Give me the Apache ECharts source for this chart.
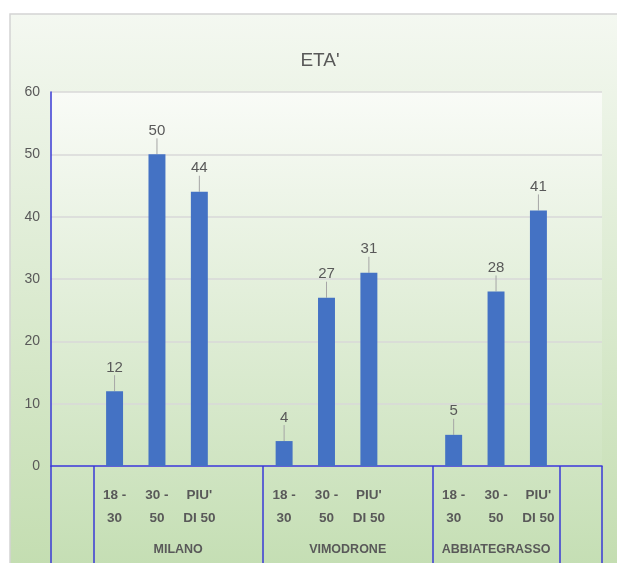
<!DOCTYPE html>
<html>
<head>
<meta charset="utf-8">
<script src="https://cdn.jsdelivr.net/npm/echarts@6/dist/echarts.min.js"></script>
<style>
  html, body { margin: 0; padding: 0; background: #ffffff; }
  #chart { width: 617px; height: 563px; }
</style>
</head>
<body>
<div id="chart"></div>
<script>
// Survey respondents by age band, per town
const groups = ['MILANO', 'VIMODRONE', 'ABBIATEGRASSO'];
const ageBands = ["18 -\n30", "30 -\n50", "PIU'\nDI 50"];
const milano = [12, 50, 44];
const vimodrone = [4, 27, 31];
const abbiategrasso = [5, 28, 41];
const yTicks = [0, 10, 20, 30, 40, 50, 60];

const FONT = "'Liberation Sans Narrow', 'Liberation Sans', Arial, sans-serif";
const TEXT = '#595959';
const AXIS_BLUE = '#3a3ad6';

// Category slots: a leading empty slot, each town's bands (the first two
// towns followed by a spacer slot), then a trailing empty slot in its own cell.
const townValues = [milano, vimodrone, abbiategrasso];
const slotLabels = [''];
const slotValues = ['-'];
const groupSpans = []; // [startSlot, endSlot, name] per cell on the lower axis row
groupSpans.push([0, 1, '']);
groups.forEach((g, gi) => {
  const start = slotLabels.length;
  ageBands.forEach((b, bi) => {
    slotLabels.push(b);
    slotValues.push(townValues[gi][bi]);
  });
  if (gi < groups.length - 1) {
    slotLabels.push('');
    slotValues.push('-');
  }
  groupSpans.push([start, slotLabels.length, g]);
});
groupSpans.push([slotLabels.length, slotLabels.length + 1, '']);
slotLabels.push('');
slotValues.push('-');

const nSlots = slotLabels.length;
const grid = { left: 51, right: 15, top: 92, bottom: 97 };
const slotW = (617 - grid.left - grid.right) / nSlots;

// Lower row: town names centred in their cells, cell borders as long ticks
const boundaryIdx = groupSpans.map(s => s[0]);
const groupAxisData = new Array(nSlots).fill(null).map(() => ({ value: '' }));
groupSpans.forEach(([s, e, name]) => {
  if (!name) return;
  const mid = (s + e) / 2 - 0.5;      // centre in slot-centre units
  const k = Math.floor(mid);
  const shift = (mid - k) * slotW;    // extra offset to the right
  groupAxisData[k] = {
    value: name,
    textStyle: { padding: [0, 0, 0, shift * 2] }
  };
});

const chart = echarts.init(document.getElementById('chart'), null, { renderer: 'canvas' });

const option = {
  animation: false,
  graphic: [
    {
      type: 'rect', z: -10, silent: true,
      shape: { x: 10, y: 14, width: 620, height: 560 },
      style: {
        fill: new echarts.graphic.LinearGradient(0, 0, 0, 1, [
          { offset: 0, color: '#f4f8f1' },
          { offset: 1, color: '#c3ddb0' }
        ]),
        stroke: '#d4d4d4', lineWidth: 1.5
      }
    },
    {
      type: 'rect', z: -9, silent: true,
      shape: { x: 51, y: 92, width: 551, height: 480 },
      style: {
        fill: new echarts.graphic.LinearGradient(0, 0, 0, 1, [
          { offset: 0, color: '#f9fbf7' },
          { offset: 1, color: '#c4deb3' }
        ])
      }
    }
  ],
  title: {
    text: "ETA'",
    left: 315,
    top: 46,
    textAlign: 'center',
    textStyle: { fontFamily: FONT, fontSize: 19, fontWeight: 'normal', color: TEXT }
  },
  grid: grid,
  xAxis: [
    {
      type: 'category',
      data: slotLabels,
      position: 'bottom',
      axisLine: { show: true, lineStyle: { color: AXIS_BLUE, width: 1.5 } },
      axisTick: { show: false },
      axisLabel: {
        interval: 0,
        margin: 18,
        fontFamily: FONT,
        fontSize: 13.5,
        fontWeight: 'bold',
        color: TEXT,
        lineHeight: 23,
        align: 'center'
      },
      splitLine: { show: false }
    },
    {
      type: 'category',
      data: groupAxisData,
      position: 'bottom',
      axisLine: { show: false },
      axisTick: {
        show: true,
        inside: false,
        length: 100,
        interval: (idx) => boundaryIdx.includes(idx),
        lineStyle: { color: AXIS_BLUE, width: 1.5 }
      },
      axisLabel: {
        interval: 0,
        margin: 77,
        fontFamily: FONT,
        fontSize: 12.5,
        fontWeight: 'bold',
        color: TEXT
      },
      splitLine: { show: false }
    }
  ],
  yAxis: {
    type: 'value',
    min: yTicks[0],
    max: yTicks[yTicks.length - 1],
    interval: yTicks[1] - yTicks[0],
    axisLine: { show: true, lineStyle: { color: AXIS_BLUE, width: 1.5 } },
    axisTick: { show: false },
    axisLabel: { margin: 11, fontFamily: FONT, fontSize: 14, color: TEXT },
    splitLine: { show: true, lineStyle: { color: '#d9d9d9', width: 1.5 } }
  },
  series: [
    {
      type: 'bar',
      xAxisIndex: 0,
      data: slotValues,
      barWidth: '40%',
      itemStyle: { color: '#4472c4' },
      label: {
        show: true,
        position: 'top',
        distance: 5,
        fontFamily: FONT,
        fontSize: 15,
        color: TEXT
      },
      labelLayout: { dy: -11 },
      labelLine: { show: true, lineStyle: { color: '#a6a6a6', width: 1 } }
    }
  ]
};

chart.setOption(option);
</script>
</body>
</html>
